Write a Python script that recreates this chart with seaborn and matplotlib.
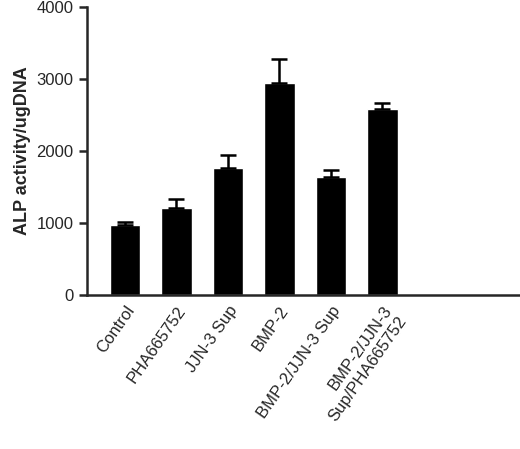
import matplotlib
matplotlib.use("Agg")
import matplotlib.pyplot as plt
import seaborn as sns
import pandas as pd
import numpy as np

categories = ["Control", "PHA665752", "JJN-3 Sup", "BMP-2", "BMP-2/JJN-3 Sup", "BMP-2/JJN-3\nSup/PHA665752"]
values = [975, 1215, 1770, 2953, 1645, 2590]
errors = [45, 115, 177, 327, 88, 80]

sns.set_style("ticks")
plt.rcParams['font.family'] = ['Liberation Sans', 'DejaVu Sans']
fig = plt.figure(figsize=(5.2, 4.49), dpi=100)
ax = fig.add_axes([0.167, 0.343, 0.833, 0.641])
df = pd.DataFrame({"cat": categories, "val": values})
sns.barplot(data=df, x="cat", y="val", color="black", width=0.6, ax=ax, saturation=1)
x = np.arange(len(categories))
ax.errorbar(x, values, yerr=[np.zeros(len(errors)), errors], fmt="none", ecolor="black",
            elinewidth=1.8, capsize=6, capthick=1.8)
ax.set_xlim(-0.74, 7.67)
ax.set_ylim(0, 4000)
ax.set_yticks([0, 1000, 2000, 3000, 4000])
ax.set_xlabel("")
ax.set_ylabel("ALP activity/ugDNA", fontsize=13, fontweight="bold")
ax.tick_params(axis="y", labelsize=12, width=1.8, length=6)
ax.tick_params(axis="x", length=0, labelsize=12, pad=6)
plt.setp(ax.get_xticklabels(), rotation=55, ha="right", rotation_mode="anchor")
for s in ["top", "right"]:
    ax.spines[s].set_visible(False)
for s in ["left", "bottom"]:
    ax.spines[s].set_linewidth(1.8)
fig.savefig("out.png", dpi=100)
